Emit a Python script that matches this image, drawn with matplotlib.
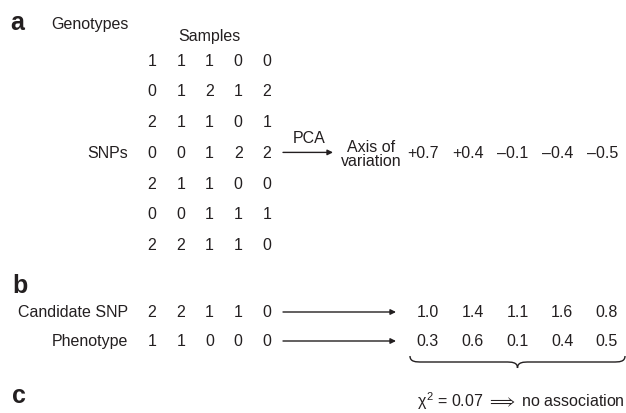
import matplotlib

matplotlib.use("Agg")
import matplotlib.pyplot as plt
from matplotlib.patches import PathPatch
from matplotlib.path import Path

plt.rcParams["font.family"] = ["Liberation Sans", "DejaVu Sans"]
plt.rcParams["mathtext.fontset"] = "custom"
plt.rcParams["mathtext.rm"] = "Liberation Sans"
plt.rcParams["mathtext.it"] = "Liberation Sans"

INK = "#231f20"

# data
genotypes = [
    [1, 1, 1, 0, 0],
    [0, 1, 2, 1, 2],
    [2, 1, 1, 0, 1],
    [0, 0, 1, 2, 2],
    [2, 1, 1, 0, 0],
    [0, 0, 1, 1, 1],
    [2, 2, 1, 1, 0],
]
axis_of_variation = ["+0.7", "+0.4", "\u20130.1", "\u20130.4", "\u20130.5"]
candidate_snp = [2, 2, 1, 1, 0]
phenotype = [1, 1, 0, 0, 0]
candidate_adjusted = ["1.0", "1.4", "1.1", "1.6", "0.8"]
phenotype_adjusted = ["0.3", "0.6", "0.1", "0.4", "0.5"]
chi2_text = r"$\chi^2$ = 0.07 $\Longrightarrow$ no association"

FS = 11.5
col_x = [152 + 28.75 * i for i in range(5)]
right_x = [439 + 44.75 * i for i in range(5)]
row_y = [61 + 30.8 * i for i in range(len(genotypes))]


def arrow(ax, x0, x1, y):
    ax.annotate("", xy=(x1, y), xytext=(x0, y),
                arrowprops=dict(arrowstyle="-|>", color=INK, lw=1.0,
                                mutation_scale=8, shrinkA=0, shrinkB=0))


def brace(ax, x0, x1, y0, depth):
    mid = (x0 + x1) / 2
    h = depth / 2
    r = 12
    verts = [
        (x0, y0), (x0, y0 + h), (x0 + r / 2, y0 + h), (x0 + r, y0 + h),
        (mid - r, y0 + h), (mid - r / 2, y0 + h), (mid, y0 + h), (mid, y0 + depth),
        (mid, y0 + h), (mid + r / 2, y0 + h), (mid + r, y0 + h),
        (x1 - r, y0 + h), (x1 - r / 2, y0 + h), (x1, y0 + h), (x1, y0),
    ]
    codes = [Path.MOVETO, Path.CURVE4, Path.CURVE4, Path.CURVE4,
             Path.LINETO, Path.CURVE4, Path.CURVE4, Path.CURVE4,
             Path.CURVE4, Path.CURVE4, Path.CURVE4,
             Path.LINETO, Path.CURVE4, Path.CURVE4, Path.CURVE4]
    ax.add_patch(PathPatch(Path(verts, codes), fill=False, edgecolor=INK, lw=1.0))


fig = plt.figure(figsize=(6.26, 4.14), dpi=100)
ax = fig.add_axes([0, 0, 1, 1])
ax.set_xlim(0, 626)
ax.set_ylim(414, 0)
ax.axis("off")

txt = dict(color=INK, fontsize=FS, va="center")

# panel a
ax.text(10, 23, "a", fontsize=18, fontweight="bold", color=INK, va="center", ha="left")
ax.text(51, 24, "Genotypes", ha="left", **txt)
ax.text(col_x[2], 36, "Samples", ha="center", **txt)
for y, row in zip(row_y, genotypes):
    for x, g in zip(col_x, row):
        ax.text(x, y, str(g), ha="center", **txt)
ax.text(128, row_y[3], "SNPs", ha="right", **txt)
arrow(ax, 283, 333, row_y[3])
ax.text(309, 139, "PCA", ha="center", **txt)
ax.text(371, 148, "Axis of", ha="center", **txt)
ax.text(371, 162, "variation", ha="center", **txt)
for x, v in zip(right_x, axis_of_variation):
    ax.text(x, row_y[3], v, ha="right", **txt)

# panel b
ax.text(12, 286, "b", fontsize=18, fontweight="bold", color=INK, va="center", ha="left")
for y, label, vals, adj in [(313, "Candidate SNP", candidate_snp, candidate_adjusted),
                            (342, "Phenotype", phenotype, phenotype_adjusted)]:
    ax.text(128, y, label, ha="right", **txt)
    for x, v in zip(col_x, vals):
        ax.text(x, y, str(v), ha="center", **txt)
    arrow(ax, 283, 396, y)
    for x, v in zip(right_x, adj):
        ax.text(x, y, v, ha="right", **txt)

brace(ax, 410, 625, 357, 12)

# panel c
ax.text(12, 396, "c", fontsize=18, fontweight="bold", color=INK, va="center", ha="left")
ax.text(521, 401, chi2_text, ha="center", **txt)

fig.savefig("out.png", dpi=100)
plt.close(fig)
